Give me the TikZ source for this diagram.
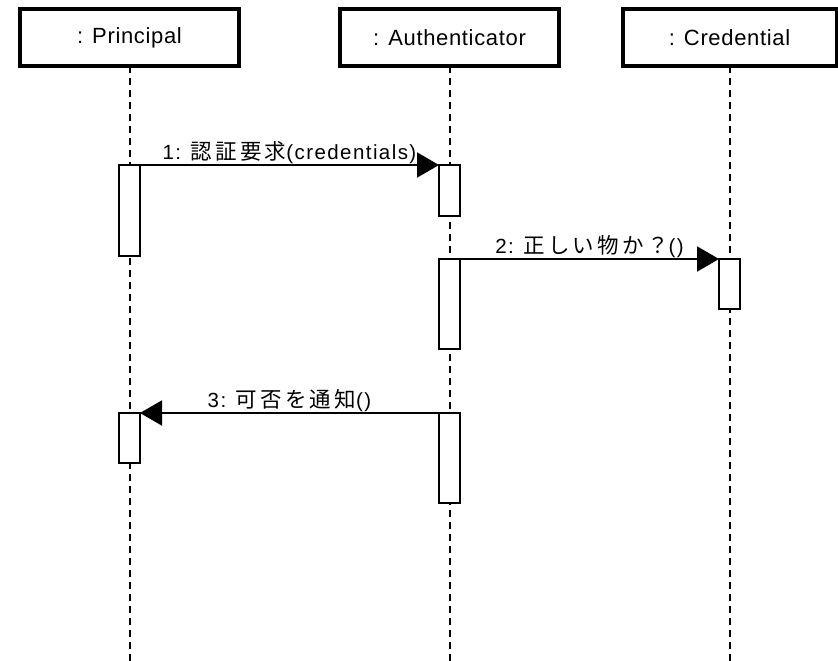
\documentclass[tikz,border=0pt]{standalone}
\usepackage{fontspec}
\setmainfont{Liberation Sans}
\newfontfamily\msgfont{Liberation Sans}[LetterSpace=7]
\newfontfamily\jpfont{Noto Sans CJK JP}[LetterSpace=15]
\newfontfamily\headfont{Liberation Sans}[LetterSpace=3]
\newcommand\jptext[1]{{\jpfont\fontsize{21.5}{24}\selectfont #1}}
\usetikzlibrary{arrows.meta}

\begin{document}
\begin{tikzpicture}[x=1pt,y=-1pt,
  objbox/.style={draw, line width=4pt, fill=white, minimum width=219pt,
    minimum height=57pt, inner sep=0pt, outer sep=0pt,
    font={\headfont\fontsize{22}{26}\selectfont}},
  lifeline/.style={line width=2pt, dash pattern=on 7pt off 5pt},
  actbar/.style={draw, line width=2pt, fill=white, minimum width=21pt,
    inner sep=0pt, outer sep=0pt},
  msg/.style={line width=2pt, -{Triangle[length=22pt,width=25pt]}},
  msglabel/.style={anchor=base, yshift=6pt, inner sep=0pt,
    font={\msgfont\fontsize{20.5}{24}\selectfont}}]
\useasboundingbox (0,0) rectangle (838,661);

% object heads
\node[objbox] (pbox) at (129.5,37.5) {: Principal};
\node[objbox] (abox) at (449.5,37.5) {: Authenticator};
\node[objbox, minimum width=214pt] (cbox) at (729.5,37.5) {: Credential};

% lifelines
\coordinate (bottom) at (0,661);
\draw[lifeline] (pbox.south) -- (pbox.south |- bottom);
\draw[lifeline] (abox.south) -- (abox.south |- bottom);
\draw[lifeline] (cbox.south) -- (cbox.south |- bottom);

% activation bars
\node[actbar, minimum height=91pt] (p1) at (129.5,210.5) {};
\node[actbar, minimum height=51pt] (a1) at (449.5,190.5) {};
\node[actbar, minimum height=90pt] (a2) at (449.5,304) {};
\node[actbar, minimum height=50pt] (c1) at (729.5,284) {};
\node[actbar, minimum height=50pt] (p2) at (129.5,438) {};
\node[actbar, minimum height=90pt] (a3) at (449.5,458) {};

% messages
\draw[msg] (p1.north east) -- node[msglabel] {1: \jptext{認証要求}(credentials)} (a1.north west);
\draw[msg] (a2.north east) -- node[msglabel] {2: \jptext{正しい物か？}()} (c1.north west);
\draw[msg] (a3.north west) -- node[msglabel] {3: \jptext{可否を通知}()} (p2.north east);
\end{tikzpicture}
\end{document}
